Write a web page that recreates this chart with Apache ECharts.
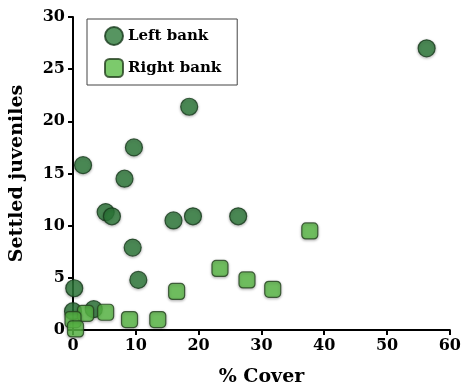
<!DOCTYPE html>
<html><head><meta charset="utf-8">
<script src="https://cdn.jsdelivr.net/npm/echarts@6/dist/echarts.min.js"></script>
<style>html,body{margin:0;padding:0;background:#fff}#c{width:464px;height:392px}</style>
</head><body><div id="c"></div>
<script>
const leftX = [56.3, 18.5, 9.7, 1.6, 8.2, 5.2, 6.2, 16.0, 19.1, 26.3, 9.5, 10.4, 0.2, 0.0, 3.3];
const leftY = [27.0, 21.4, 17.5, 15.8, 14.5, 11.3, 10.9, 10.5, 10.9, 10.9, 7.9, 4.8, 4.0, 1.8, 2.0];
const rightX = [37.7, 23.4, 27.7, 31.8, 16.5, 9.0, 13.5, 5.2, 2.0, 0.0, 0.4];
const rightY = [9.5, 5.9, 4.8, 3.9, 3.7, 1.0, 1.0, 1.7, 1.6, 1.0, 0.1];
const xTicks = [0, 10, 20, 30, 40, 50, 60];
const yTicks = [0, 5, 10, 15, 20, 25, 30];
const seriesNames = ['Left bank', 'Right bank'];

const font = 'DejaVu Serif';
const pair = (xs, ys) => xs.map((x, i) => [x, ys[i]]);
const chart = echarts.init(document.getElementById('c'));
const axisCommon = {
  axisLine: {show: true, lineStyle: {color: '#000', width: 2}},
  axisTick: {show: true, length: 5, lineStyle: {color: '#000', width: 2}},
  axisLabel: {color: '#000', fontFamily: font, fontWeight: 'bold', fontSize: 16},
  splitLine: {show: false},
  nameTextStyle: {color: '#000', fontFamily: font, fontWeight: 'bold', fontSize: 19}
};
chart.setOption({
  animation: false,
  grid: {left: 73, right: 12, top: 17, bottom: 58},
  legend: {
    left: 87, top: 19, orient: 'vertical',
    borderColor: '#444', borderWidth: 1, padding: [7, 16, 7, 17], itemGap: 12,
    itemWidth: 18, itemHeight: 18,
    textStyle: {color: '#000', fontFamily: font, fontWeight: 'bold', fontSize: 15},
    data: seriesNames
  },
  xAxis: Object.assign({}, axisCommon, {
    type: 'value', min: 0, max: 60, interval: 10,
    name: '% Cover', nameLocation: 'middle', nameGap: 38,
    axisLabel: Object.assign({}, axisCommon.axisLabel, {margin: 8})
  }),
  yAxis: Object.assign({}, axisCommon, {
    type: 'value', min: 0, max: 30, interval: 5,
    name: 'Settled juveniles', nameLocation: 'middle', nameGap: 46,
    axisLabel: Object.assign({}, axisCommon.axisLabel, {margin: 8})
  }),
  series: [
    {
      name: seriesNames[0], type: 'scatter', symbol: 'circle', symbolSize: 17,
      data: pair(leftX, leftY),
      itemStyle: {color: '#2d7b3a', borderColor: '#163a1b', borderWidth: 1.2,
        shadowBlur: 3, shadowColor: 'rgba(0,0,0,0.35)', shadowOffsetY: 1},
      z: 3
    },
    {
      name: seriesNames[1], type: 'scatter', symbol: 'roundRect', symbolSize: 16,
      data: pair(rightX, rightY),
      itemStyle: {color: '#5bbd47', borderColor: '#24401f', borderWidth: 1.2,
        shadowBlur: 3, shadowColor: 'rgba(0,0,0,0.35)', shadowOffsetY: 1},
      z: 4
    }
  ]
});
</script></body></html>
